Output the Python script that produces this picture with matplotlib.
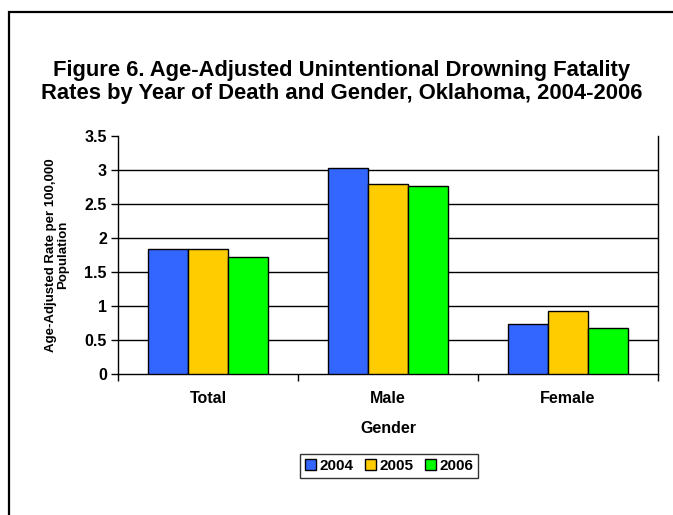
import matplotlib
matplotlib.use("Agg")
import matplotlib.pyplot as plt
import numpy as np
from matplotlib.patches import Rectangle

plt.rcParams["font.family"] = ["Liberation Sans", "DejaVu Sans"]
plt.rcParams["font.weight"] = "bold"

CATEGORIES = ["Total", "Male", "Female"]
YEARS = ["2004", "2005", "2006"]
RATES_2004 = [1.84, 3.02, 0.74]
RATES_2005 = [1.83, 2.79, 0.92]
RATES_2006 = [1.72, 2.76, 0.68]
COLORS = ["#3366FF", "#FFCC00", "#00FF00"]
YTICKS = [0, 0.5, 1, 1.5, 2, 2.5, 3, 3.5]
YTICK_LABELS = ["0", "0.5", "1", "1.5", "2", "2.5", "3", "3.5"]


def main():
    fig = plt.figure(figsize=(6.73, 5.15), dpi=100)
    # outer frame of the chart object
    fig.patches.append(Rectangle((9 / 673, -0.1), 1.2, 1 - 12 / 515 + 0.1,
                                 transform=fig.transFigure, fill=False,
                                 edgecolor="black", linewidth=1.6))

    ax = fig.add_axes([118 / 673, 1 - 374 / 515, 540 / 673, (374 - 135.7) / 515])
    x = np.arange(len(CATEGORIES))
    w = 0.222
    series = [RATES_2004, RATES_2005, RATES_2006]
    for i, (vals, year, col) in enumerate(zip(series, YEARS, COLORS)):
        ax.bar(x + (i - 1) * w, vals, width=w, color=col, edgecolor="black",
               linewidth=1.0, label=year, zorder=3)

    ax.set_ylim(0, 3.5)
    ax.set_xlim(-0.5, 2.5)
    ax.set_yticks(YTICKS)
    ax.set_yticklabels(YTICK_LABELS, fontsize=11.5, fontweight="bold")
    for yv in YTICKS[1:-1]:
        ax.axhline(yv, color="black", linewidth=1.0, zorder=1)

    ax.set_xticks([-0.5, 0.5, 1.5, 2.5])
    ax.set_xticklabels([])
    ax.set_xticks(x, minor=True)
    ax.set_xticklabels(CATEGORIES, minor=True, fontsize=11.5, fontweight="bold")
    ax.tick_params(axis="x", which="minor", length=0, pad=12)
    ax.tick_params(axis="x", which="major", length=5, width=1, direction="out")
    ax.tick_params(axis="y", length=5, width=1, direction="out", pad=3)

    ax.spines["top"].set_visible(False)
    for s in ["left", "right", "bottom"]:
        ax.spines[s].set_color("black")
        ax.spines[s].set_linewidth(1.0)

    ax.set_xlabel("Gender", fontsize=11.5, fontweight="bold", labelpad=11)
    ax.set_ylabel("Age-Adjusted Rate per 100,000\nPopulation", fontsize=9.5,
                  fontweight="bold", linespacing=1.0, va="center")
    ax.yaxis.set_label_coords(-0.113, 0.5)

    fig.text(342 / 673, 1 - 82 / 515,
             "Figure 6. Age-Adjusted Unintentional Drowning Fatality\n"
             "Rates by Year of Death and Gender, Oklahoma, 2004-2006",
             ha="center", va="center", fontsize=15.8, fontweight="bold",
             linespacing=1.12)

    leg = ax.legend(loc="center", bbox_to_anchor=(389 / 673, 1 - 466 / 515),
                    bbox_transform=fig.transFigure, ncol=3, frameon=True,
                    fancybox=False, edgecolor="black", fontsize=11,
                    handlelength=0.75, handleheight=0.75, handletextpad=0.2,
                    columnspacing=0.75, borderpad=0.3, borderaxespad=0)
    leg.get_frame().set_linewidth(1.0)
    for t in leg.get_texts():
        t.set_fontweight("bold")

    fig.savefig("out.png", dpi=100)
    plt.close(fig)


if __name__ == "__main__":
    main()
